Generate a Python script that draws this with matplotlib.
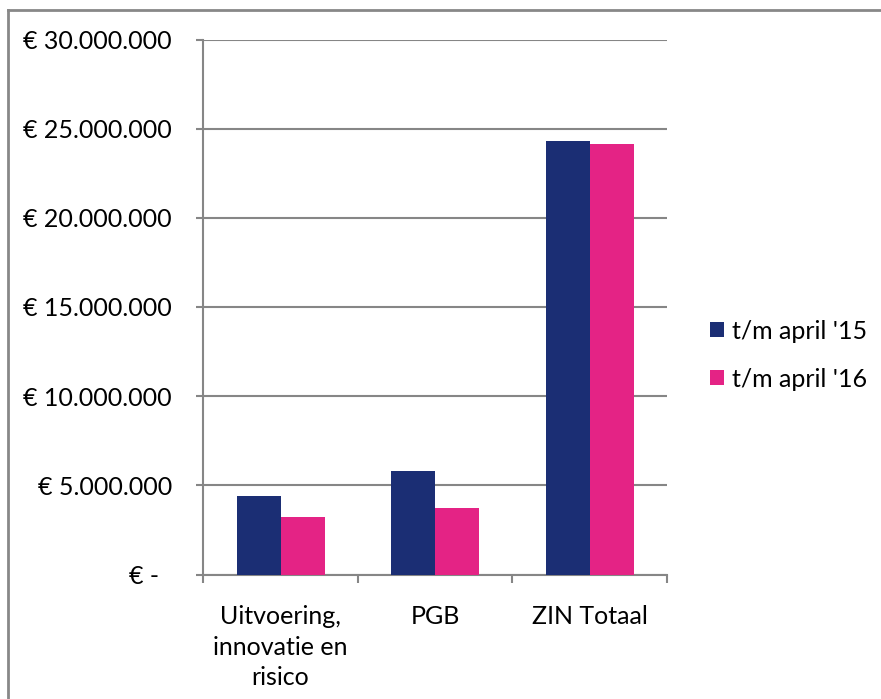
import matplotlib
matplotlib.use("Agg")
import matplotlib.pyplot as plt
from matplotlib.lines import Line2D
import numpy as np

categories = ["Uitvoering,\ninnovatie en\nrisico", "PGB", "ZIN Totaal"]
series_names = ["t/m april '15", "t/m april '16"]
values_2015 = [4_420_000, 5_820_000, 24_310_000]
values_2016 = [3_220_000, 3_710_000, 24_140_000]
y_ticks = [0, 5_000_000, 10_000_000, 15_000_000, 20_000_000, 25_000_000, 30_000_000]
y_tick_labels = ["€ -  ", "€ 5.000.000", "€ 10.000.000", "€ 15.000.000",
                 "€ 20.000.000", "€ 25.000.000", "€ 30.000.000"]
colors = ["#1B2E74", "#E42385"]

plt.rcParams['font.family'] = ['Lato', 'DejaVu Sans']
W, H = 881, 699
fig = plt.figure(figsize=(W / 100, H / 100), dpi=100)
ax = fig.add_axes([203.3 / W, 1 - 574.5 / H, (667 - 203.3) / W, (574.5 - 39.5) / H])

x = np.arange(len(categories))
bw = 0.285
ax.bar(x - bw / 2, values_2015, bw, color=colors[0], label=series_names[0], zorder=3)
ax.bar(x + bw / 2, values_2016, bw, color=colors[1], label=series_names[1], zorder=3)

ax.set_xlim(-0.5, 2.5)
ax.set_ylim(0, 30_000_000)
grid_c = "#868686"
ax.set_yticks(y_ticks)
ax.set_yticklabels(y_tick_labels, fontsize=18)
ax.yaxis.grid(True, color=grid_c, linewidth=1.5, zorder=0)
ax.set_axisbelow(True)
ax.set_xticks(x)
ax.set_xticklabels(categories, fontsize=18, linespacing=1.4)
ax.set_xticks([-0.5, 0.5, 1.5, 2.5], minor=True)
ax.tick_params(axis='x', which='major', length=0, pad=22)
ax.tick_params(axis='x', which='minor', length=6, width=1.5, color=grid_c)
ax.tick_params(axis='y', length=5, width=1.5, color=grid_c, pad=17.5)
for s in ["top", "right"]:
    ax.spines[s].set_visible(False)
for s in ["left", "bottom"]:
    ax.spines[s].set_color(grid_c)
    ax.spines[s].set_linewidth(1.5)

leg = ax.legend(loc="center left", bbox_to_anchor=(1.072, 0.41), frameon=False,
                fontsize=18, handlelength=0.55, handleheight=0.55, handletextpad=0.3,
                labelspacing=1.0, borderaxespad=0)

fig.add_artist(Line2D([8 / W, 8 / W], [0, 1 - 9.5 / H], color="#888888", linewidth=2))
fig.add_artist(Line2D([8 / W, 1], [1 - 9.5 / H, 1 - 9.5 / H], color="#888888", linewidth=2))

fig.savefig("out.png", dpi=100, facecolor="white")
